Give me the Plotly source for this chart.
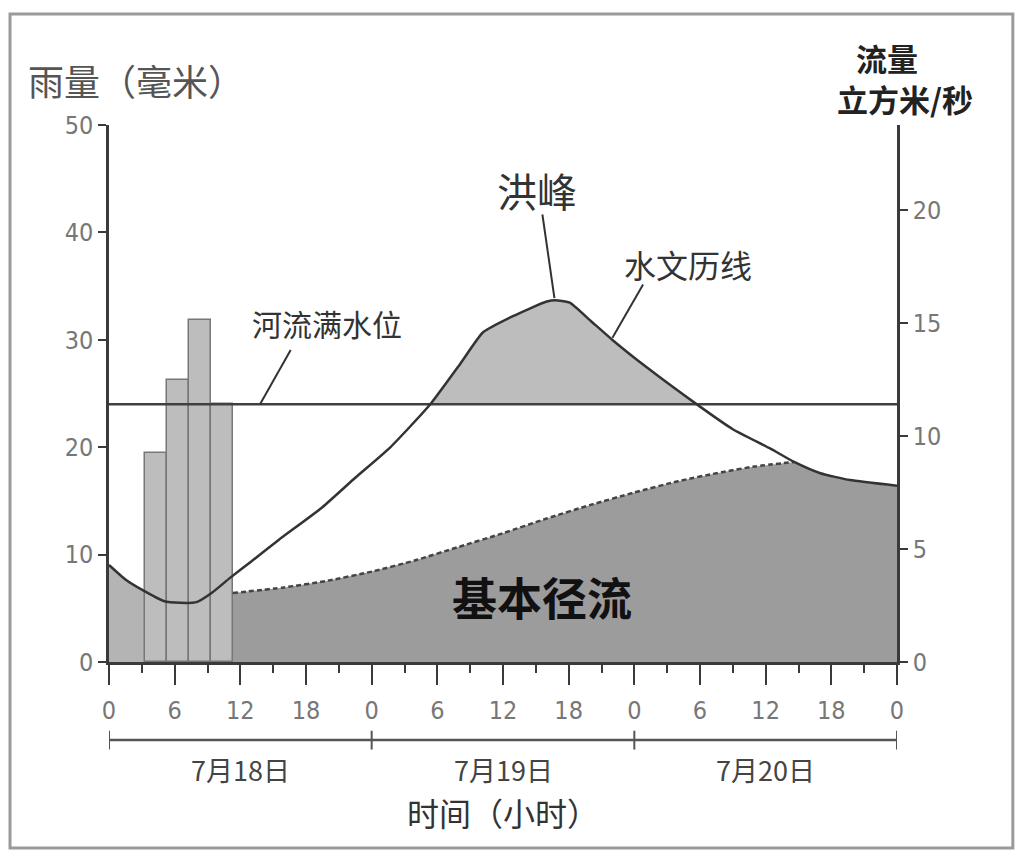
import numpy as np
import plotly.graph_objects as go

# ---------------- data ----------------
# discharge hydrograph (hours since 7/18 00:00, m3/s)
flow_hours = [0, 1.5, 3, 5, 6.5, 8, 9.5, 11, 13, 15.5, 19.5, 22.5, 25.7, 29.3, 32.1, 34.2,
              36.9, 40, 41, 42.1, 44, 46, 49.1, 54, 57, 60.4, 62.6, 65, 67.7, 72]
flow_vals = [4.29, 3.65, 3.2, 2.7, 2.62, 2.65, 3.1, 3.7, 4.45, 5.4, 6.85, 8.15, 9.5, 11.37, 13.2, 14.6,
             15.3, 15.95, 16.0, 15.9, 15.1, 14.25, 13.05, 11.3, 10.3, 9.45, 8.85, 8.35, 8.05, 7.8]

# base flow (dashed line)
base_hours = [11.3, 16, 20, 24, 28, 32, 36, 40, 44, 48, 52, 56, 59, 62.6]
base_vals = [3.05, 3.3, 3.6, 4.0, 4.5, 5.1, 5.7, 6.35, 6.95, 7.5, 8.0, 8.4, 8.65, 8.85]

# rainfall bars (mm)
rain_hours = [4.3, 6.3, 8.3, 10.3]
rain_mm = [19.5, 26.3, 31.8, 24.0]

# river full (bankfull) level in m3/s units
river_full_level = 11.4

x_tickvals = [0, 6, 12, 18, 24, 30, 36, 42, 48, 54, 60, 66, 72]
x_ticktext = ["0", "6", "12", "18", "0", "6", "12", "18", "0", "6", "12", "18", "0"]
day_centers = [12, 36, 60]
day_labels = ["7月18日", "7月19日", "7月20日"]
day_bounds = [0, 24, 48, 72]

rain_ticks = [0, 10, 20, 30, 40, 50]
flow_ticks = [0, 5, 10, 15, 20]

# ---------------- figure ----------------
CJK = "Noto Sans CJK SC"
NUM = "Liberation Sans Narrow, DejaVu Sans Condensed, Liberation Sans, sans-serif"

fh = np.array(flow_hours, dtype=float)
fv = np.array(flow_vals, dtype=float)
bars_end = base_hours[0]

fig = go.Figure()

# light area under curve before rain bars end
m = fh <= bars_end
lx = list(fh[m]) + [bars_end]
ly = list(fv[m]) + [float(np.interp(bars_end, fh, fv))]
fig.add_trace(go.Scatter(x=lx + [bars_end], y=ly + [0], mode="lines", line=dict(width=0),
                         fill="tozeroy", fillcolor="#b4b4b4", yaxis="y", showlegend=False,
                         hoverinfo="skip"))

# base flow area (dark)
after = fh > base_hours[-1]
bx = [bars_end] + base_hours + list(fh[after])
by = [0] + base_vals + list(fv[after])
fig.add_trace(go.Scatter(x=bx, y=by, mode="lines", line=dict(width=0),
                         fill="tozeroy", fillcolor="#9c9c9c", yaxis="y", showlegend=False,
                         hoverinfo="skip"))

# flood peak area above bankfull level
dense_x = np.linspace(0, 72, 721)
dense_y = np.interp(dense_x, fh, fv)
fig.add_trace(go.Scatter(x=dense_x, y=np.full_like(dense_x, river_full_level), mode="lines",
                         line=dict(width=0), yaxis="y", showlegend=False, hoverinfo="skip"))
fig.add_trace(go.Scatter(x=dense_x, y=np.maximum(dense_y, river_full_level), mode="lines",
                         line=dict(width=0), fill="tonexty", fillcolor="#bdbdbd", yaxis="y",
                         showlegend=False, hoverinfo="skip"))

# rainfall bars
fig.add_trace(go.Bar(x=rain_hours, y=rain_mm, width=2.0, yaxis="y2",
                     marker=dict(color="#bdbdbd", line=dict(color="#777777", width=1.5)),
                     showlegend=False))

# lines on top
fig.add_trace(go.Scatter(x=base_hours, y=base_vals, mode="lines", yaxis="y3",
                         line=dict(color="#444444", width=2.5, dash="5px,3px", shape="spline", smoothing=0.6),
                         showlegend=False))
fig.add_trace(go.Scatter(x=[0, 72], y=[river_full_level, river_full_level], mode="lines", yaxis="y3",
                         line=dict(color="#404040", width=2.5), showlegend=False))
fig.add_trace(go.Scatter(x=flow_hours, y=flow_vals, mode="lines", yaxis="y3",
                         line=dict(color="#333333", width=2.5, shape="spline", smoothing=0.5),
                         showlegend=False))

FLOW_MAX = 23.76
axis_common = dict(showgrid=False, zeroline=False, showline=True, linecolor="#3a3a3a", linewidth=2.5,
                   ticks="outside", tickcolor="#3a3a3a", tickwidth=2,
                   tickfont=dict(family=NUM, size=25, color="#777777"))

fig.update_layout(
    width=1024, height=860, autosize=False,
    margin=dict(l=101, r=135, t=117, b=206),
    paper_bgcolor="white", plot_bgcolor="white",
    bargap=0,
    xaxis=dict(range=[0, 72], tickvals=x_tickvals, ticktext=x_ticktext, ticklen=20,
               ticklabelstandoff=4,
               minor=dict(dtick=3, tick0=0, ticks="outside", ticklen=8, tickcolor="#3a3a3a", tickwidth=1.5),
               **axis_common),
    yaxis=dict(range=[0, FLOW_MAX], side="right", tickvals=flow_ticks, ticklen=8, **axis_common),
    yaxis2=dict(range=[0, 50], side="left", overlaying="y", tickvals=rain_ticks, ticklen=8,
                ticklabelstandoff=0, **axis_common),
    yaxis3=dict(range=[0, FLOW_MAX], overlaying="y", visible=False),
)

# leader lines (annotation pointers)
leader = dict(color="#333333", width=2)
fig.add_shape(type="line", xref="x", yref="y", x0=13.8, y0=river_full_level, x1=16.6, y1=13.8, line=leader)
fig.add_shape(type="line", xref="x", yref="y", x0=40.7, y0=16.1, x1=39.6, y1=19.8, line=leader)
fig.add_shape(type="line", xref="x", yref="y", x0=46.0, y0=14.35, x1=48.8, y1=16.7, line=leader)

def note(x, y, text, size, color, xref="x", yref="y", xanchor="center"):
    fig.add_annotation(x=x, y=y, xref=xref, yref=yref, text=text, showarrow=False,
                       xanchor=xanchor, yanchor="middle", borderpad=0,
                       font=dict(family=CJK, size=size, color=color))

note(19.9, 15.0, "河流满水位", 30, "#333333")
note(39.1, 20.9, "洪峰", 40, "#333333")
note(52.9, 17.6, "水文历线", 32, "#333333")
note(39.6, 2.9, "<b>基本径流</b>", 45, "#111111")

# axis titles
note(-0.104, 1.084, "雨量（毫米）", 36, "#555555", xref="paper", yref="paper", xanchor="left")
note(0.987, 1.125, "<b>流量</b>", 31, "#222222", xref="paper", yref="paper")
note(1.01, 1.05, "<b>立方米/秒</b>", 31, "#222222", xref="paper", yref="paper")

# day bracket below x axis
fig.add_shape(type="line", xref="x", yref="paper", x0=day_bounds[0], x1=day_bounds[-1],
              y0=-0.1453, y1=-0.1453, line=dict(color="#555555", width=2.5))
for b in day_bounds:
    fig.add_shape(type="line", xref="x", yref="paper", x0=b, x1=b, y0=-0.128, y1=-0.163,
                  line=dict(color="#555555", width=2))
for c, lab in zip(day_centers, day_labels):
    note(c, -0.2, lab, 27, "#444444", yref="paper")
note(36, -0.28, "时间（小时）", 32, "#333333", yref="paper")

# outer frame
fig.add_shape(type="rect", xref="paper", yref="paper", x0=-0.1256, x1=1.147, y0=-0.3464, y1=1.2067,
              line=dict(color="#9a9a9a", width=3), layer="below")

fig.write_html("out.html")
